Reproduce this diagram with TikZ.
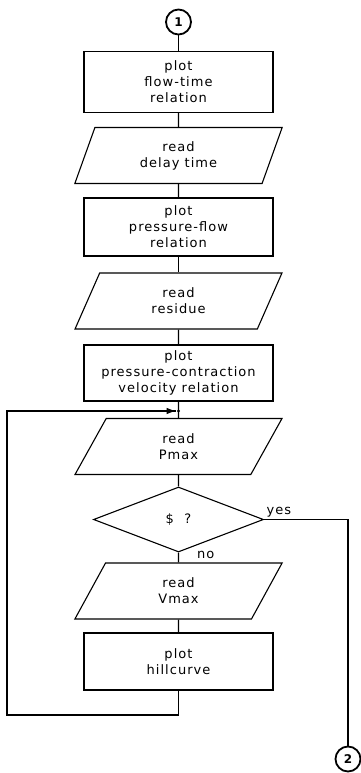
\documentclass[tikz,border=0pt]{standalone}
\usepackage{fontspec}
\setmainfont{DejaVu Sans}[LetterSpace=8]
\usetikzlibrary{shapes.geometric,arrows.meta}
\begin{document}
\begin{tikzpicture}[x=1pt,y=-1pt,line width=1.1pt,
  every node/.style={font=\fontsize{13}{16}\selectfont, align=center},
  procbox/.style={draw, rectangle, minimum width=189pt, minimum height=58pt, inner sep=0pt},
  iobox/.style={draw, trapezium, trapezium left angle=72, trapezium right angle=108,
    trapezium stretches=true, minimum width=208pt, minimum height=56pt, inner sep=0pt},
  decision/.style={draw, diamond, minimum width=170pt, minimum height=65pt, inner sep=0pt},
  conn/.style={draw, circle, line width=1.8pt, minimum size=25pt, inner sep=0pt, font=\fontsize{12}{14}\selectfont\bfseries},
  lbl/.style={inner sep=0pt}]
\useasboundingbox (0,0) rectangle (361,773);
\node[conn] (c1) at (178.5,22) {1};
\node[procbox, minimum height=61pt] (b1) at (178.5,82) {plot\\flow-time\\relation};
\node[iobox] (p1) at (178.5,155.5) {read\\delay time};
\node[procbox] (b2) at (178.5,227) {plot\\pressure-flow\\relation};
\node[iobox] (p2) at (178.5,301) {read\\residue};
\node[procbox, minimum height=56pt] (b3) at (178.5,373) {plot\\pressure-contraction\\velocity relation};
\coordinate (j) at (178.5,411);
\node[iobox] (p3) at (178.5,446.5) {read\\Pmax};
\node[decision] (d) at (178.5,519.5) {\$\ \ ?};
\node[iobox] (p4) at (178.5,591) {read\\Vmax};
\node[procbox, minimum height=57pt] (b4) at (178.5,661.5) {plot\\hillcurve};
\coordinate (lb) at (7,715);
\coordinate (lt) at (7,411);
\node[conn] (c2) at (348,759) {2};
\node[lbl, anchor=south west] (yes) at ([xshift=2pt,yshift=2pt]d.east) {yes};
\node[lbl, anchor=west] (no) at ([xshift=18pt,yshift=-2pt]d.south) {no};
\draw (c1) -- (b1);
\draw (b1) -- (p1);
\draw (p1) -- (b2);
\draw (b2) -- (p2);
\draw (p2) -- (b3);
\draw (b3) -- (p3);
\draw (p3) -- (d);
\draw (d) -- (p4);
\draw (p4) -- (b4);
\draw (b4.south) -- (b4.south |- lb) -- (lb) -- (lt) -- ([xshift=-3pt]j);
\draw[-{Triangle[length=8pt,width=6pt]}] (lt) -- ([xshift=-4pt]j);
\fill (j) circle (1.6pt);
\draw (d.east) -- (d.east -| c2) -- (c2.north);
\end{tikzpicture}
\end{document}
